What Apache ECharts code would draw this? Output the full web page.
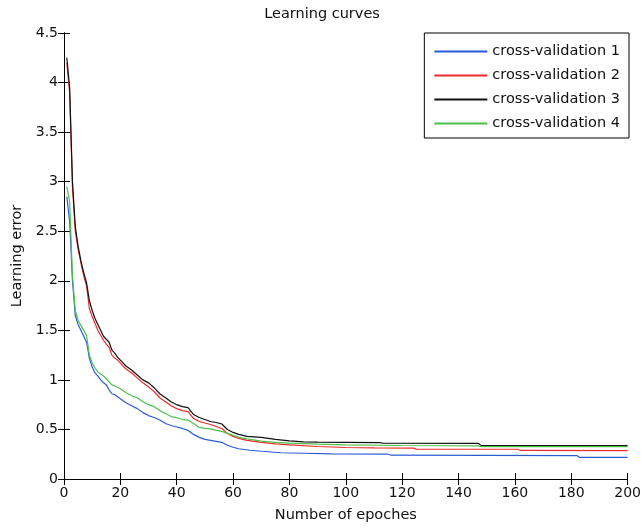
<!DOCTYPE html>
<html>
<head>
<meta charset="utf-8">
<script src="https://cdn.jsdelivr.net/npm/echarts@6/dist/echarts.min.js"></script>
<style>html,body{margin:0;padding:0;background:#fff;}#c{width:644px;height:529px;}</style>
</head>
<body>
<div id="c"></div>
<script>
var seriesNames = ['cross-validation 1', 'cross-validation 2', 'cross-validation 3', 'cross-validation 4'];
var seriesColors = ['#2a5bd7', '#f02a2a', '#111111', '#4cc04c'];

var cv1 = [[1,2.85],[2,2.6],[3,2.0],[4,1.65],[5,1.56],[6,1.5],[7,1.44],[8,1.38],[9,1.22],[10,1.13],[11,1.07],[12,1.04],[13,1.0],[14,0.97],[15,0.95],[16,0.9],[17,0.86],[18,0.85],[20,0.81],[22,0.77],[24,0.74],[26,0.71],[28,0.67],[30,0.64],[32,0.62],[34,0.595],[36,0.56],[38,0.54],[40,0.525],[42,0.51],[44,0.49],[46,0.45],[48,0.42],[50,0.4],[52,0.39],[54,0.38],[56,0.37],[58,0.34],[60,0.32],[62,0.305],[66,0.29],[70,0.28],[77,0.265],[85,0.26],[95,0.253],[115,0.25],[116,0.24],[182,0.236],[183,0.218],[200,0.218]];
var cv2 = [[1,4.2],[2,3.9],[3,2.95],[4,2.5],[5,2.32],[6,2.18],[7,2.05],[8,1.95],[9,1.72],[10,1.64],[11,1.57],[12,1.5],[13,1.45],[14,1.4],[15,1.36],[16,1.33],[17,1.25],[18,1.22],[19,1.2],[20,1.17],[22,1.11],[24,1.07],[26,1.02],[28,0.97],[30,0.93],[32,0.88],[34,0.82],[36,0.78],[38,0.74],[40,0.71],[42,0.69],[44,0.68],[46,0.61],[48,0.58],[50,0.565],[52,0.55],[54,0.53],[56,0.51],[58,0.46],[60,0.43],[62,0.41],[65,0.39],[70,0.37],[75,0.355],[80,0.345],[90,0.328],[100,0.318],[110,0.314],[124,0.312],[125,0.302],[161,0.3],[162,0.288],[200,0.286]];
var cv3 = [[1,4.25],[2,3.95],[3,3.0],[4,2.55],[5,2.35],[6,2.2],[7,2.08],[8,1.98],[9,1.8],[10,1.7],[11,1.62],[12,1.56],[13,1.5],[14,1.44],[15,1.41],[16,1.38],[17,1.3],[18,1.27],[19,1.23],[20,1.2],[22,1.14],[24,1.1],[26,1.05],[28,1.0],[30,0.97],[32,0.92],[34,0.86],[36,0.82],[38,0.78],[40,0.75],[42,0.73],[44,0.72],[46,0.65],[48,0.62],[50,0.6],[52,0.58],[54,0.57],[56,0.555],[58,0.5],[60,0.47],[62,0.45],[65,0.43],[70,0.42],[75,0.4],[80,0.385],[85,0.375],[90,0.372],[100,0.37],[112,0.368],[113,0.362],[147,0.36],[148,0.337],[200,0.337]];
var cv4 = [[1,2.95],[2,2.8],[3,2.05],[4,1.7],[5,1.6],[6,1.55],[7,1.5],[8,1.45],[9,1.25],[10,1.17],[11,1.12],[12,1.08],[14,1.04],[16,0.98],[17,0.95],[18,0.94],[20,0.91],[22,0.87],[24,0.84],[26,0.82],[28,0.78],[30,0.75],[32,0.73],[34,0.69],[36,0.66],[38,0.63],[40,0.62],[42,0.6],[44,0.595],[46,0.56],[48,0.52],[50,0.51],[52,0.505],[54,0.49],[56,0.48],[58,0.46],[60,0.44],[62,0.42],[65,0.405],[70,0.383],[75,0.37],[80,0.362],[90,0.352],[100,0.345],[120,0.338],[147,0.335],[148,0.327],[200,0.326]];
var seriesData = [cv1, cv2, cv3, cv4];

var xTicks = {min: 0, max: 200, interval: 20};
var yTicks = {min: 0, max: 4.5, interval: 0.5};

var FONT = 'DejaVu Sans';
var chart = echarts.init(document.getElementById('c'));

function axisBase(show) {
  return {
    axisLine: {show: true, lineStyle: {color: '#000', width: 1}},
    axisTick: {show: true, inside: true, length: 6, lineStyle: {color: '#000'}},
    axisLabel: {show: show, color: '#111', fontFamily: FONT, fontSize: 14},
    splitLine: {show: false}
  };
}

var xMain = Object.assign(axisBase(true), {
  type: 'value', position: 'bottom', min: xTicks.min, max: xTicks.max, interval: xTicks.interval,
  name: 'Number of epoches', nameLocation: 'middle', nameGap: 29,
  nameTextStyle: {color: '#111', fontFamily: FONT, fontSize: 14.5}
});
xMain.axisLabel.margin = 7;
var xTop = Object.assign(axisBase(false), {
  type: 'value', position: 'top', min: xTicks.min, max: xTicks.max, interval: xTicks.interval
});
var yMain = Object.assign(axisBase(true), {
  type: 'value', position: 'left', min: yTicks.min, max: yTicks.max, interval: yTicks.interval,
  name: 'Learning error', nameLocation: 'middle', nameGap: 39,
  nameTextStyle: {color: '#111', fontFamily: FONT, fontSize: 14.5}
});
yMain.axisLabel.margin = 6;
var yRight = Object.assign(axisBase(false), {
  type: 'value', position: 'right', min: yTicks.min, max: yTicks.max, interval: yTicks.interval
});

chart.setOption({
  animation: false,
  backgroundColor: '#fff',
  title: {
    text: 'Learning curves', left: 'center', top: 2,
    textStyle: {color: '#111', fontFamily: FONT, fontSize: 14.5, fontWeight: 'normal'}
  },
  grid: {left: 64, right: 15, top: 33, bottom: 50},
  legend: {
    orient: 'vertical', right: 15, top: 33,
    backgroundColor: '#fff', borderColor: '#000', borderWidth: 1,
    padding: [11, 9, 7, 9], itemGap: 9, itemWidth: 53, itemHeight: 14,
    itemStyle: {opacity: 0},
    textStyle: {color: '#111', fontFamily: FONT, fontSize: 14.5},
    data: seriesNames
  },
  xAxis: [xMain, xTop],
  yAxis: [yMain, yRight],
  series: seriesNames.map(function (n, i) {
    return {
      name: n, type: 'line', data: seriesData[i], symbol: 'none', showSymbol: false,
      xAxisIndex: 0, yAxisIndex: 0,
      lineStyle: {color: seriesColors[i], width: 1.2}, itemStyle: {color: seriesColors[i]}
    };
  })
});
</script>
</body>
</html>
